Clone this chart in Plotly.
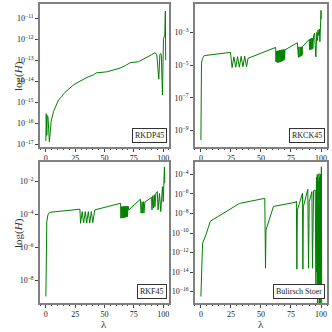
import plotly.graph_objs as go

# lambda values and error H for each integrator
lam_rkdp = [0.0, 0.3, 0.8, 1.2, 1.8, 3.0, 4.5, 6.5, 8.5, 10.8, 13.5, 15.0, 19.0, 23.5, 28.0,
            32.0, 36.0, 40.6, 43.0, 52.0, 58.0, 63.3, 68.0, 71.9, 79.0, 83.2, 86.0, 90.0,
            93.2, 94.6, 96.3, 97.2, 98.0, 98.5, 99.4, 100.3, 101.0, 101.4, 101.9, 102.2]
h_rkdp = [1.4e-17, 2.8e-16, 2.6e-17, 2.3e-16, 2.0e-16, 1.3e-17, 1.2e-16, 3.5e-16, 7e-16,
          1.3e-15, 1.8e-15, 2.5e-15, 4e-15, 6.6e-15, 9.3e-15, 1.26e-14, 1.6e-14, 2e-14,
          2.5e-14, 2.8e-14, 3.4e-14, 4.2e-14, 5.6e-14, 7.6e-14, 8.5e-14, 1.1e-13, 1.4e-13,
          1.8e-13, 2.3e-13, 1.8e-13, 1.26e-14, 1.8e-13, 2.1e-13, 1.6e-13, 2.2e-15, 1e-12,
          1.4e-12, 1.6e-12, 2.2e-11, 1e-13]

lam_rkck = [0.0, 0.2, 0.5, 1.3, 2.8, 24.6,
            25.0, 26.0, 27.5, 29.0, 30.5, 32.0, 33.5, 35.0, 36.5, 38.0, 39.2,
            62.2, 62.5, 63.0, 63.3, 63.8, 64.1, 64.6, 64.9, 65.4, 65.7, 66.2, 66.5, 67.0,
            67.3, 67.8, 68.1, 68.6, 68.9, 69.4, 69.7, 70.0,
            80.3, 80.6, 80.9, 81.2, 81.5, 81.8, 82.1, 82.4, 82.7, 83.0, 83.3, 83.6, 83.9,
            84.2, 84.5,
            90.2, 90.5, 91.0, 91.4, 91.9, 92.3, 92.8, 93.2, 93.8, 94.6, 95.7, 96.5, 97.0,
            97.5, 98.2, 98.6, 99.1, 100.0, 100.3]
h_rkck = [2.7e-10, 3.2e-7, 1.3e-5, 2.6e-5, 3.8e-5, 6e-5,
          3.2e-5, 7e-6, 3.2e-5, 7.5e-6, 3.3e-5, 7.5e-6, 3.4e-5, 8e-6, 3.5e-5, 8e-6, 2.6e-5,
          1.2e-4, 1.6e-5, 7e-5, 1.5e-5, 7.5e-5, 1.4e-5, 7.5e-5, 1.5e-5, 8e-5, 1.5e-5, 8e-5,
          1.6e-5, 8.5e-5, 1.7e-5, 8.5e-5, 1.8e-5, 9e-5, 2e-5, 9e-5, 2.2e-5, 8.5e-5,
          2.3e-4, 3.2e-5, 1.3e-4, 3e-5, 1.3e-4, 3.2e-5, 1.3e-4, 3.3e-5, 1.3e-4, 3.5e-5,
          1.3e-4, 3.6e-5, 1.3e-4, 4e-5, 1.3e-4,
          3.7e-4, 8.5e-5, 4e-4, 9e-5, 4.5e-4, 9e-5, 4.5e-4, 1e-4, 6.3e-4, 9e-4, 3.2e-5,
          1e-3, 3.2e-4, 1.4e-3, 6.3e-4, 1.6e-3, 2.7e-4, 2.2e-2, 6.3e-3]

lam_rkf = [0.0, 0.3, 0.8, 1.7, 3.1, 29.0,
           29.6, 31.0, 32.2, 33.6, 34.8, 36.2, 37.4, 38.8, 40.0, 41.7,
           63.7, 64.0, 64.5, 64.8, 65.3, 65.6, 66.1, 66.4, 66.9, 67.2, 67.7, 68.0, 68.5,
           68.8, 69.3, 69.6, 70.1, 70.7,
           80.6, 81.2, 81.5, 81.8, 82.1, 82.4, 82.7, 83.0, 83.3, 83.6, 83.9, 84.2, 84.5,
           84.8,
           90.1, 90.5, 91.2, 91.8, 92.5, 93.0, 93.8, 95.0, 95.7, 96.9, 98.0, 99.4, 100.1,
           101.1, 101.4]
h_rkf = [1e-9, 4.5e-6, 3.6e-5, 9.3e-5, 1.35e-4, 2.1e-4,
         2.9e-5, 1.5e-4, 3e-5, 1.5e-4, 3e-5, 1.5e-4, 3e-5, 1.5e-4, 3.2e-5, 1.9e-4,
         4.8e-4, 5.9e-5, 3e-4, 6e-5, 3e-4, 6e-5, 3.1e-4, 6.2e-5, 3.1e-4, 6.5e-5, 3.2e-4,
         6.8e-5, 3.2e-4, 7e-5, 3.2e-4, 7.5e-5, 3.2e-4, 1.9e-4,
         8.5e-4, 1.2e-4, 6e-4, 1.2e-4, 6e-4, 1.2e-4, 6e-4, 1.2e-4, 6e-4, 1.2e-4, 6e-4,
         1.2e-4, 6e-4, 6e-4,
         1.1e-3, 1.9e-4, 1.4e-3, 2.5e-4, 1.6e-3, 3e-4, 1.9e-3, 2.5e-3, 1.9e-4, 1.9e-3,
         1.5e-4, 5e-3, 6e-4, 8e-2, 8e-3]

lam_bs = [0.0, 0.8, 1.4, 4.2, 7.8, 32.2, 53.2, 53.8, 54.2, 60.4, 79.0, 79.5, 79.9, 80.3,
          84.6, 84.9, 85.3, 89.0, 89.6, 90.2, 92.4, 92.9, 93.8, 95.2, 95.8, 96.2, 96.5,
          96.9, 97.2, 97.6, 97.9, 98.3, 98.6, 98.9, 99.3, 99.6, 99.9, 100.3, 100.6]
h_bs = [3.2e-17, 5.9e-12, 9e-12, 6.3e-11, 1.6e-9, 1.07e-7, 3.5e-7, 2.5e-14, 2e-10, 5.2e-8,
        1.4e-7, 1.8e-7, 2e-14, 2.2e-8, 1.15e-6, 2e-14, 4.9e-8, 3e-6, 2.5e-14, 1.6e-7,
        1.7e-6, 2.5e-14, 2.1e-6, 2.5e-6, 1e-16, 5e-5, 1e-14, 1e-4, 1e-18, 2e-5, 3e-16,
        1.2e-4, 1e-18, 5e-5, 1e-18, 1e-4, 5e-17, 6e-4, 1e-18]

names = ["RKDP45", "RKCK45", "RKF45", "Bulirsch Stoer"]
series = [(lam_rkdp, h_rkdp), (lam_rkck, h_rkck), (lam_rkf, h_rkf), (lam_bs, h_bs)]
y_ranges = [[-17.14, -10.32], [-10.0, -1.27], [-9.4, -0.8], [-17.16, -2.74]]
y_exps = [[-17, -16, -15, -14, -13, -12, -11],
          [-9, -7, -5, -3],
          [-8, -6, -4, -2],
          [-16, -14, -12, -10, -8, -6, -4]]
x_ticks = [0, 25, 50, 75, 100]
x_dom = [[0.1205, 0.509], [0.587, 0.985], [0.1205, 0.509], [0.587, 0.985]]
y_dom = [[0.557, 0.988], [0.557, 0.988], [0.0873, 0.512], [0.0873, 0.512]]

font = "Liberation Serif"
fig = go.Figure()
layout = dict(width=332, height=332, margin=dict(l=0, r=0, t=0, b=0),
              paper_bgcolor="white", plot_bgcolor="white", showlegend=False,
              font=dict(family=font, size=8, color="#222"))
annotations = []

for i, ((lam, h), name) in enumerate(zip(series, names)):
    k = "" if i == 0 else str(i + 1)
    fig.add_trace(go.Scatter(x=lam, y=h, mode="lines", xaxis="x" + k, yaxis="y" + k,
                             line=dict(color="#008000", width=1)))
    layout["xaxis" + k] = dict(domain=x_dom[i], anchor="y" + k, range=[-5, 105],
                               tickvals=x_ticks, ticks="outside", ticklen=3,
                               minor=dict(dtick=5, ticks="outside", ticklen=1.5,
                                          tickcolor="#444"),
                               automargin=False,
                               showgrid=False, zeroline=False, showline=True, mirror=True,
                               linecolor="#808080", linewidth=1.5, tickcolor="#444",
                               tickfont=dict(size=8))
    layout["yaxis" + k] = dict(domain=y_dom[i], anchor="x" + k, type="log",
                               range=y_ranges[i], tickvals=[10.0 ** e for e in y_exps[i]],
                               ticktext=["10<sup>\u2212%d</sup>" % -e for e in y_exps[i]],
                               ticks="outside", ticklen=3, automargin=False,
                               showgrid=False, zeroline=False, showline=True, mirror=True,
                               linecolor="#808080", linewidth=1.5, tickcolor="#444",
                               tickfont=dict(size=8))
    annotations.append(dict(text=name, xref="x%s domain" % k, yref="y%s domain" % k,
                            x=0.985, y=0.03, xanchor="right", yanchor="bottom",
                            showarrow=False, font=dict(size=8, color="#222"),
                            bordercolor="#333", borderwidth=1, borderpad=2,
                            bgcolor="white"))

for k in ["", "3"]:
    annotations.append(dict(text="log(<i>H</i>)", xref="paper", yref="y%s domain" % k,
                            x=0.03, y=0.5, textangle=-90, showarrow=False,
                            font=dict(size=11, color="#333")))
for k in ["3", "4"]:
    annotations.append(dict(text="λ", xref="x%s domain" % k, yref="paper",
                            x=0.5, y=0.0, showarrow=False, yanchor="bottom",
                            font=dict(size=11, color="#333")))
layout["annotations"] = annotations

fig.update_layout(**layout)
fig.write_html("out.html", config={"displayModeBar": False},
               post_script="document.body.style.margin='0px';")
